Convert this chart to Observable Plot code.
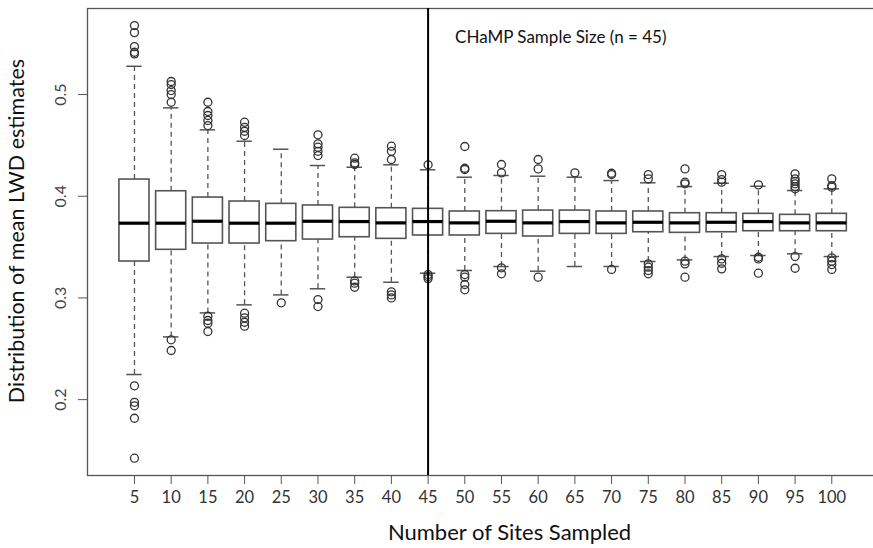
<!DOCTYPE html>
<html>
<head>
<meta charset="utf-8">
<script src="https://cdn.jsdelivr.net/npm/d3@7"></script>
<script src="https://cdn.jsdelivr.net/npm/@observablehq/plot@0.6"></script>
<style>
  html, body { margin: 0; padding: 0; background: #fff; }
  #chart svg { display: block; }
</style>
</head>
<body>
<div id="chart"></div>
<script>
// ---- Data ----
const sampleSizes = [5, 10, 15, 20, 25, 30, 35, 40, 45, 50, 55, 60, 65, 70, 75, 80, 85, 90, 95, 100];
const q1 =      [0.3358, 0.3473, 0.3535, 0.3535, 0.3558, 0.3574, 0.3597, 0.3581, 0.3614, 0.3614, 0.3630, 0.3604, 0.3630, 0.3630, 0.3646, 0.3640, 0.3646, 0.3656, 0.3656, 0.3656];
const medians = [0.3735, 0.3735, 0.3754, 0.3735, 0.3735, 0.3754, 0.3751, 0.3738, 0.3751, 0.3738, 0.3754, 0.3738, 0.3751, 0.3738, 0.3744, 0.3738, 0.3744, 0.3751, 0.3738, 0.3738];
const q3 =      [0.4164, 0.4049, 0.3987, 0.3948, 0.3925, 0.3909, 0.3886, 0.3882, 0.3876, 0.3850, 0.3853, 0.3859, 0.3859, 0.3850, 0.3850, 0.3833, 0.3833, 0.3827, 0.3817, 0.3827];
const whiskerLow =  [0.2247, 0.2617, 0.2853, 0.2932, 0.3030, 0.3090, 0.3204, 0.3154, 0.3243, 0.3270, 0.3309, 0.3263, 0.3309, 0.3309, 0.3358, 0.3374, 0.3407, 0.3417, 0.3434, 0.3407];
const whiskerHigh = [0.5278, 0.4869, 0.4653, 0.4541, 0.4462, 0.4302, 0.4285, 0.4309, 0.4260, 0.4187, 0.4204, 0.4197, 0.4187, 0.4154, 0.4132, 0.4095, 0.4128, 0.4098, 0.4056, 0.4073];
const outliersHigh = [
  [0.5678, 0.5609, 0.5471, 0.5416, 0.5400],
  [0.5128, 0.5098, 0.5039, 0.5000, 0.4924],
  [0.4924, 0.4833, 0.4794, 0.4745, 0.4695],
  [0.4728, 0.4678, 0.4639, 0.4597],
  [],
  [0.4604, 0.4515, 0.4482, 0.4442, 0.4400],
  [0.4374, 0.4328, 0.4312],
  [0.4492, 0.4442, 0.4361],
  [0.4309],
  [0.4489, 0.4275, 0.4263],
  [0.4312, 0.4230],
  [0.4361, 0.4269],
  [0.4230],
  [0.4226, 0.4213],
  [0.4213, 0.4171],
  [0.4269, 0.4138, 0.4122],
  [0.4213, 0.4164, 0.4138],
  [0.4112],
  [0.4220, 0.4171, 0.4147, 0.4122, 0.4095, 0.4073],
  [0.4171, 0.4105, 0.4089]
];
const outliersLow = [
  [0.2136, 0.1974, 0.1939, 0.1817, 0.1424],
  [0.2588, 0.2483],
  [0.2820, 0.2778, 0.2751, 0.2670],
  [0.2850, 0.2804, 0.2761, 0.2722],
  [0.2952],
  [0.2984, 0.2915],
  [0.3167, 0.3145, 0.3105],
  [0.3060, 0.3030, 0.3000],
  [0.3230, 0.3210, 0.3190],
  [0.3230, 0.3204, 0.3132, 0.3080],
  [0.3296, 0.3237],
  [0.3204],
  [],
  [0.3280],
  [0.3335, 0.3302, 0.3269, 0.3237],
  [0.3361, 0.3335, 0.3204],
  [0.3384, 0.3341, 0.3286],
  [0.3400, 0.3384, 0.3243],
  [0.3407, 0.3292],
  [0.3394, 0.3361, 0.3328, 0.3280]
];
const yTicks = [0.2, 0.3, 0.4, 0.5];
const champSize = 45;
const annotationText = "CHaMP Sample Size (n = 45)";
const xTitle = "Number of Sites Sampled";
const yTitle = "Distribution of mean LWD estimates";

// ---- Build tables ----
const boxes = sampleSizes.map((n, i) => ({
  n, q1: q1[i], median: medians[i], q3: q3[i], lo: whiskerLow[i], hi: whiskerHigh[i]
}));
const outliers = sampleSizes.flatMap((n, i) =>
  outliersHigh[i].concat(outliersLow[i]).map(v => ({ n, v }))
);

const halfBox = 2.05;   // half box width in x units (style)
const halfCap = 1.05;   // half staple width
const FONT = "Lato, 'Open Sans', sans-serif";
const grey = "#555";

const chart = Plot.plot({
  width: 873,
  height: 548,
  marginLeft: 87,
  marginRight: -6,
  marginTop: 8,
  marginBottom: 73,
  style: { fontFamily: FONT, background: "#fff", color: "#333" },
  x: { type: "linear", domain: [-1.4, 106.5] },
  y: { domain: [0.1254, 0.5846] },
  marks: [
    Plot.frame({ stroke: grey, strokeWidth: 1.3 }),
    // x axis ticks & labels
    Plot.axisX({ ticks: sampleSizes, tickSize: 9, tickPadding: 7, fontSize: 16.5, stroke: grey, label: null, tickFormat: d => String(d) }),
    // y axis ticks
    Plot.axisY({ ticks: yTicks, tickSize: 9, tickFormat: () => "", stroke: grey, label: null }),
    // y tick labels, rotated like R
    Plot.text(yTicks, { y: d => d, text: d => d3.format(".1f")(d), frameAnchor: "left", textAnchor: "middle", lineAnchor: "middle", rotate: -90, dx: -27, fontSize: 16, fill: "#444" }),
    // whiskers
    Plot.ruleX(boxes, { x: "n", y1: "q3", y2: "hi", stroke: grey, strokeWidth: 1.3, strokeDasharray: "5,4" }),
    Plot.ruleX(boxes, { x: "n", y1: "lo", y2: "q1", stroke: grey, strokeWidth: 1.3, strokeDasharray: "5,4" }),
    // caps
    Plot.ruleY(boxes, { y: "hi", x1: d => d.n - halfCap, x2: d => d.n + halfCap, stroke: grey, strokeWidth: 1.5 }),
    Plot.ruleY(boxes, { y: "lo", x1: d => d.n - halfCap, x2: d => d.n + halfCap, stroke: grey, strokeWidth: 1.5 }),
    // boxes
    Plot.rect(boxes, { x1: d => d.n - halfBox, x2: d => d.n + halfBox, y1: "q1", y2: "q3", fill: "#fff", stroke: grey, strokeWidth: 1.6 }),
    // medians
    Plot.ruleY(boxes, { y: "median", x1: d => d.n - halfBox, x2: d => d.n + halfBox, stroke: "#000", strokeWidth: 3.2 }),
    // outliers
    Plot.dot(outliers, { x: "n", y: "v", r: 4, stroke: "#333", strokeWidth: 1.3, fill: "none" }),
    // CHaMP line
    Plot.ruleX([champSize], { stroke: "#000", strokeWidth: 2 }),
    Plot.text([{ n: champSize, label: annotationText }], { x: "n", text: "label", frameAnchor: "top", textAnchor: "start", lineAnchor: "middle", dx: 27, dy: 29, fontSize: 17, fill: "#111" }),
    // axis titles
    Plot.text([xTitle], { frameAnchor: "bottom", textAnchor: "middle", lineAnchor: "middle", dx: 26, dy: 57, fontSize: 22, fill: "#111" }),
    Plot.text([yTitle], { frameAnchor: "left", textAnchor: "middle", lineAnchor: "middle", rotate: -90, dx: -70, dy: -11, fontSize: 21.5, fill: "#111" })
  ]
});
document.getElementById("chart").appendChild(chart);
</script>
</body>
</html>
